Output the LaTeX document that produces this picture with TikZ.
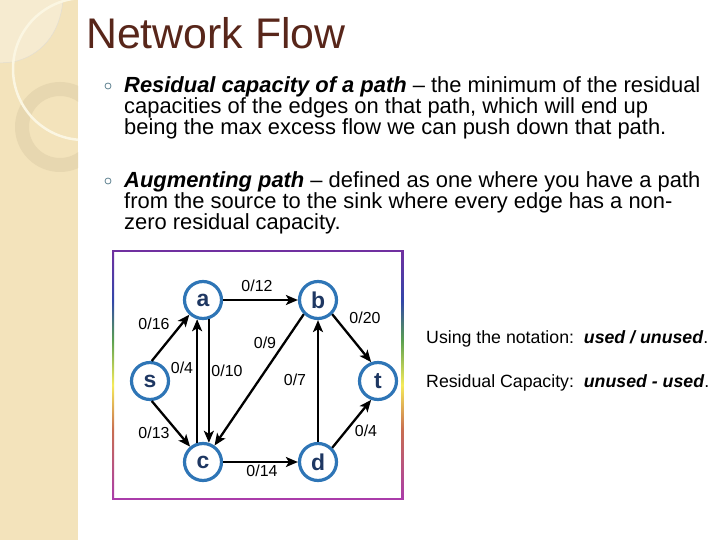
\documentclass[tikz,border=0pt]{standalone}
\usepackage{fontspec}
\setmainfont{Liberation Sans}
\usetikzlibrary{arrows.meta}
\definecolor{titlebrown}{RGB}{88,38,26}
\definecolor{sidebeige}{RGB}{243,227,187}
\definecolor{sidelight}{RGB}{246,235,208}
\definecolor{arccream}{RGB}{251,246,226}
\definecolor{ringbeige}{RGB}{231,215,176}
\definecolor{ringblue}{RGB}{46,117,182}
\definecolor{letterblue}{RGB}{30,55,98}
\definecolor{bulletgray}{RGB}{95,130,145}
\definecolor{framepurple}{RGB}{112,48,160}
\definecolor{frameblue}{RGB}{50,70,170}
\definecolor{framegreen}{RGB}{90,160,80}
\definecolor{frameyellow}{RGB}{245,235,90}
\definecolor{frameorange}{RGB}{200,110,80}
\definecolor{framemagenta}{RGB}{170,60,170}
\pgfdeclareverticalshading{framerainbow}{100bp}{color(0bp)=(framemagenta); color(25bp)=(framemagenta);
  color(39bp)=(frameorange); color(48bp)=(frameyellow); color(57bp)=(framegreen);
  color(65bp)=(frameblue); color(75bp)=(framepurple); color(100bp)=(framepurple)}

\begin{document}
\begin{tikzpicture}[x=1bp,y=-1bp]
\useasboundingbox (0,0) rectangle (720,540);
\tikzset{
  VertexStyle/.style={circle, draw=ringblue, line width=3.2bp, fill=white, minimum size=37bp,
    inner sep=0pt, text=letterblue, font=\fontsize{23}{23}\selectfont\bfseries},
  EdgeStyle/.style={-{Stealth[length=12bp,width=10bp,inset=3bp]}, line width=2.3bp},
  LabelStyle/.style={inner sep=0pt, font=\fontsize{16}{16}\selectfont},
  BodyStyle/.style={anchor=base west, align=left, inner sep=0pt, font=\fontsize{22}{21.2}\selectfont},
  NoteStyle/.style={anchor=base west, inner sep=0pt, font=\fontsize{17.8}{18}\selectfont},
  BulletStyle/.style={circle, draw=bulletgray, line width=0.8bp, minimum size=6bp, inner sep=0pt}
}
% side strip
\fill[sidebeige] (0,0) rectangle (78,540);
\begin{scope}
\clip (0,0) rectangle (78,540);
\fill[sidelight] (0,0) -- (63,0) .. controls (60,35) and (40,56) .. (13,62) -- (0,63) -- cycle;
\draw[ringbeige!80!black!40, line width=0.5bp] (63,0) .. controls (60,35) and (40,56) .. (13,62) -- (0,63);
\fill[ringbeige, even odd rule] (60,127) circle[radius=45] (60,127) circle[radius=31];
\draw[arccream, line width=2.5bp] (84,69) circle[radius=71];
\end{scope}

% title and text (base of the last line)
\node[anchor=base west, inner sep=0pt, text=titlebrown, font=\fontsize{43}{43}\selectfont] (title) at (86,49) {Network Flow};
\node[BulletStyle] (bul1) at (108,86) {};
\node[BodyStyle] (para1) at (124,135) {\textbf{\textit{Residual capacity of a path}} – the minimum of the residual\\
capacities of the edges on that path, which will end up\\
being the max excess flow we can push down that path.};
\node[BulletStyle] (bul2) at (108,181) {};
\node[BodyStyle] (para2) at (124,230) {\textbf{\textit{Augmenting path}} – defined as one where you have a path\\
from the source to the sink where every edge has a non-\\
zero residual capacity.};

% frame
\shade[shading=framerainbow] (112,251) rectangle (114,499);
\shade[shading=framerainbow] (401.5,251) rectangle (403.5,499);
\draw[framepurple, line width=2bp] (112,251) -- (403.5,251);
\draw[framemagenta, line width=2bp] (112,499) -- (403.5,499);

% graph
\node[VertexStyle] (a) at (203,300) {a};
\node[VertexStyle] (b) at (318,300) {b};
\node[VertexStyle] (s) at (150,381) {s};
\node[VertexStyle] (t) at (378,381) {t};
\node[VertexStyle] (c) at (203,462) {c};
\node[VertexStyle] (d) at (318,462) {d};

\draw[EdgeStyle] (s.85) -- (a.227);
\draw[EdgeStyle] (s.275) -- (c.130);
\draw[EdgeStyle] (c.107) -- (a.253);
\draw[EdgeStyle] (a.287) -- (c.73);
\draw[EdgeStyle] (a) -- (b);
\draw[EdgeStyle] (b.225) -- (c.55);
\draw[EdgeStyle] (d) -- (b);
\draw[EdgeStyle] (b.315) -- (t.110);
\draw[EdgeStyle] (d.45) -- (t.250);
\draw[EdgeStyle] (c) -- (d);

\node[LabelStyle] (lab) at (257,286) {0/12};
\node[LabelStyle] (lsa) at (154,324) {0/16};
\node[LabelStyle] (lca) at (182,368) {0/4};
\node[LabelStyle] (lac) at (227,371) {0/10};
\node[LabelStyle] (lbc) at (265,343) {0/9};
\node[LabelStyle] (ldb) at (295,380) {0/7};
\node[LabelStyle] (lbt) at (365,318) {0/20};
\node[LabelStyle] (lsc) at (154,433) {0/13};
\node[LabelStyle] (ldt) at (366,431) {0/4};
\node[LabelStyle] (lcd) at (262,471) {0/14};

% notation
\node[NoteStyle] (note1) at (426,343) {Using the notation:\ \ \textbf{\textit{used / unused}}.};
\node[NoteStyle] (note2) at (426,387) {Residual Capacity:\ \ \textbf{\textit{unused - used}}.};
\end{tikzpicture}
\end{document}
